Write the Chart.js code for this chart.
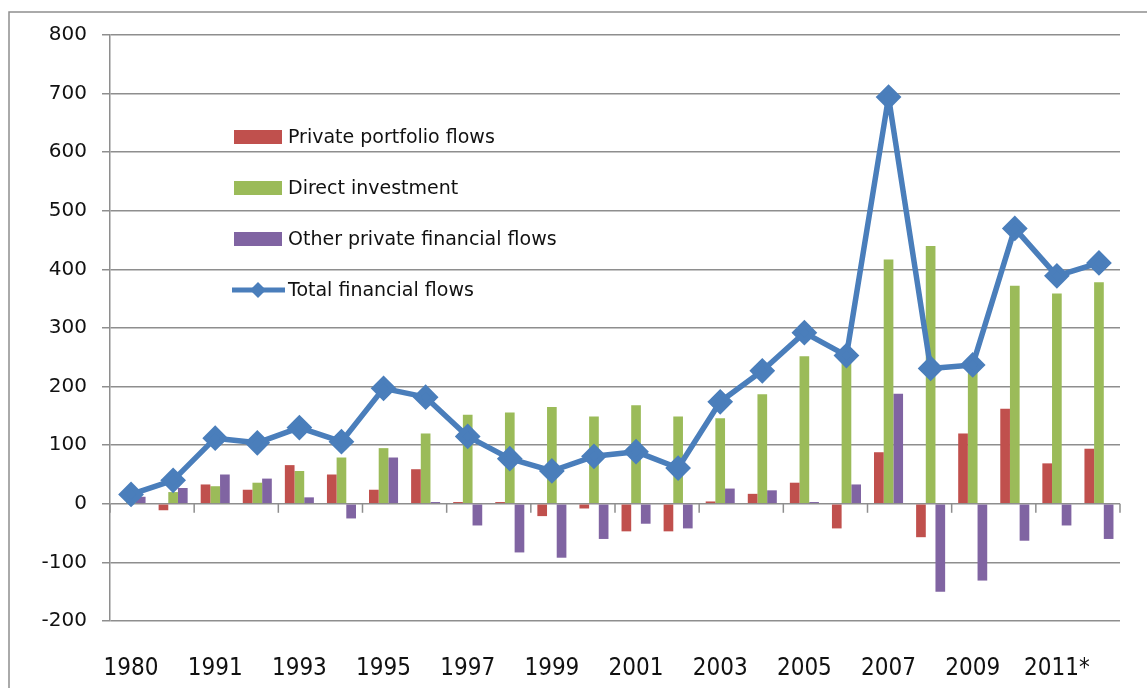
<!DOCTYPE html>
<html>
<head>
<meta charset="utf-8">
<script src="https://cdn.jsdelivr.net/npm/chart.js@4.4.1/dist/chart.umd.min.js"></script>
<style>
  html, body { margin: 0; padding: 0; background: #fff; overflow: hidden; }
  #wrap { position: relative; width: 1147px; height: 688px; }
</style>
</head>
<body>
<div id="wrap"><canvas id="flows" width="1147" height="688"></canvas></div>
<script>
// categories (only every other label is printed, like the original)
const years = ['1980', '1990', '1991', '1992', '1993', '1994', '1995', '1996', '1997', '1998',
    '1999', '2000', '2001', '2002', '2003', '2004', '2005', '2006', '2007', '2008',
    '2009', '2010', '2011*', '2012*'];

const portfolio = [0, -11, 33, 24, 66, 50, 24, 59, 3, 3, -21, -8, -47, -47, 4, 17, 36, -42, 88, -57, 120, 162, 69, 94];
const direct = [4, 20, 30, 36, 56, 79, 95, 120, 152, 156, 165, 149, 168, 149, 146, 187, 252, 246, 417, 440, 249, 372, 359, 378];
const other = [12, 27, 50, 43, 11, -25, 79, 3, -37, -83, -92, -60, -34, -42, 26, 23, 3, 33, 188, -150, -131, -63, -37, -60];
const total = [16, 40, 112, 104, 130, 106, 197, 182, 115, 77, 56, 81, 89, 61, 174, 227, 292, 253, 694, 231, 237, 470, 389, 411];

const yTicks = { min: -200, max: 800, step: 100 };

const GRID = '#8e8e8e';
const TEXT = '#111';

// outer frame of the chart object (only left/top edges are in view)
const framePlugin = {
    id: 'frame',
    beforeDraw(chart) {
        const ctx = chart.ctx;
        ctx.save();
        ctx.strokeStyle = GRID;
        ctx.lineWidth = 1.5;
        ctx.strokeRect(9, 12, 1400, 1000);
        ctx.restore();
    }
};

// tick marks on the category axis, which crosses at zero
const zeroAxisPlugin = {
    id: 'zeroAxis',
    afterDatasetsDraw(chart) {
        const x = chart.scales.x, y = chart.scales.y;
        const y0 = y.getPixelForValue(0);
        const ctx = chart.ctx;
        const half = (x.getPixelForValue(1) - x.getPixelForValue(0)) / 2;
        ctx.save();
        ctx.strokeStyle = GRID;
        ctx.lineWidth = 1.5;
        for (let i = 0; i <= years.length; i += 2) {
            const px = x.getPixelForValue(i) - half;
            ctx.beginPath();
            ctx.moveTo(px, y0);
            ctx.lineTo(px, y0 + 9);
            ctx.stroke();
        }
        ctx.restore();
    }
};

// legend sitting inside the plot, top left
const innerLegend = {
    id: 'innerLegend',
    afterDraw(chart) {
        const ctx = chart.ctx;
        const left = 234, top = 137, gap = 51;
        ctx.save();
        ctx.font = '19px "DejaVu Sans"';
        ctx.textBaseline = 'middle';
        ctx.fillStyle = TEXT;
        chart.data.datasets.forEach((ds, i) => {
            const cy = top + i * gap;
            if (ds.type === 'line') {
                ctx.strokeStyle = ds.borderColor;
                ctx.lineWidth = 5;
                ctx.beginPath();
                ctx.moveTo(left - 2, cy);
                ctx.lineTo(left + 51, cy);
                ctx.stroke();
                ctx.fillStyle = ds.borderColor;
                ctx.beginPath();
                ctx.moveTo(left + 24, cy - 8);
                ctx.lineTo(left + 32, cy);
                ctx.lineTo(left + 24, cy + 8);
                ctx.lineTo(left + 16, cy);
                ctx.closePath();
                ctx.fill();
            } else {
                ctx.fillStyle = ds.backgroundColor;
                ctx.fillRect(left, cy - 7, 48, 14);
            }
            ctx.fillStyle = TEXT;
            ctx.fillText(ds.label, left + 54, cy + 1);
        });
        ctx.restore();
    }
};

new Chart(document.getElementById('flows'), {
    data: {
        labels: years,
        datasets: [
            { type: 'bar', label: 'Private portfolio flows', data: portfolio, backgroundColor: '#C0504D', order: 1 },
            { type: 'bar', label: 'Direct investment', data: direct, backgroundColor: '#9BBB59', order: 1 },
            { type: 'bar', label: 'Other private financial flows', data: other, backgroundColor: '#8064A2', order: 1 },
            {
                type: 'line', label: 'Total financial flows', data: total,
                borderColor: '#4A7EBB', backgroundColor: '#4A7EBB', borderWidth: 5.5,
                borderJoinStyle: 'round',
                pointStyle: 'rectRot', pointRadius: 9, pointHoverRadius: 9,
                pointBackgroundColor: '#4A7EBB', pointBorderColor: '#4A7EBB',
                tension: 0, order: 0
            }
        ]
    },
    options: {
        responsive: false,
        animation: false,
        devicePixelRatio: 1,
        layout: { padding: { top: 35, right: 27, bottom: 0, left: 0 } },
        datasets: { bar: { categoryPercentage: 0.69, barPercentage: 1.0 } },
        plugins: { legend: { display: false }, tooltip: { enabled: false } },
        scales: {
            x: {
                grid: { display: false },
                border: { display: false },
                ticks: {
                    autoSkip: false, maxRotation: 0, padding: 25, color: TEXT,
                    font: { family: '"Liberation Sans Narrow", "DejaVu Sans Condensed", "Liberation Sans"', size: 24 },
                    callback: (v, i) => (i % 2 === 0 ? years[i] : '')
                },
                afterFit(scale) { scale.height = 67; }
            },
            y: {
                min: yTicks.min, max: yTicks.max,
                ticks: { stepSize: yTicks.step, padding: 15, color: TEXT, font: { family: '"DejaVu Sans"', size: 20 } },
                grid: { color: GRID, lineWidth: 1.5, tickLength: 8 },
                border: { color: GRID, width: 1.5 },
                afterFit(scale) { scale.width = 110; }
            }
        }
    },
    plugins: [framePlugin, zeroAxisPlugin, innerLegend]
});
</script>
</body>
</html>
